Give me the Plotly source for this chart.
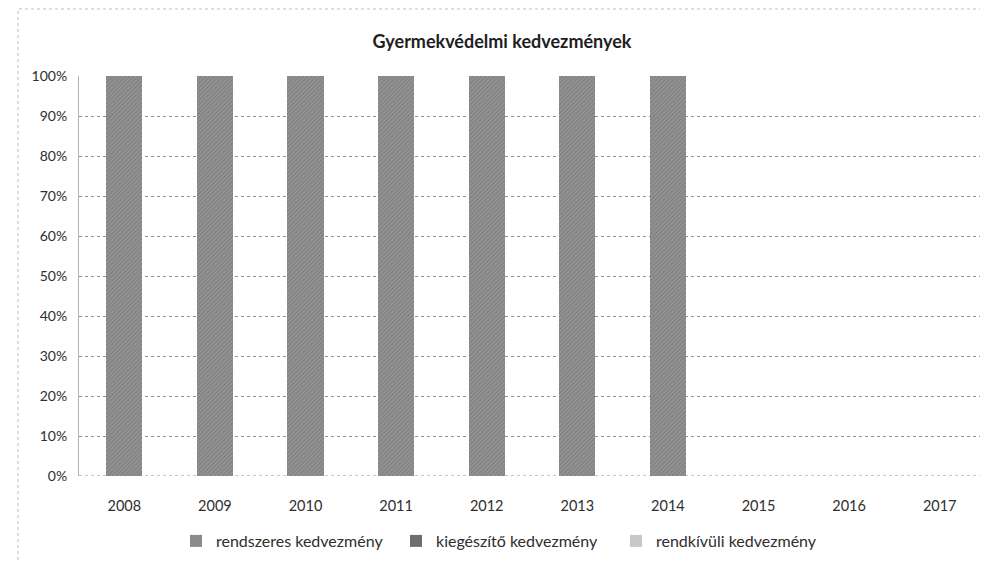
import plotly.graph_objects as go

years = ["2008", "2009", "2010", "2011", "2012", "2013", "2014", "2015", "2016", "2017"]
rendszeres = [100, 100, 100, 100, 100, 100, 100, None, None, None]
kiegeszito = [0, 0, 0, 0, 0, 0, 0, None, None, None]
rendkivuli = [0, 0, 0, 0, 0, 0, 0, None, None, None]
y_ticks = [0, 10, 20, 30, 40, 50, 60, 70, 80, 90, 100]

W, H = 988, 562
OFF = 8  # page offset of the figure inside the browser
L, R, T, B = 79 - OFF, 988 - (985 - OFF), 76 - OFF, 562 - (476 - OFF)

fig = go.Figure()
fig.add_bar(x=years, y=rendszeres, name="rendszeres kedvezmény",
            marker=dict(color="#858585", line=dict(width=0),
                        pattern=dict(shape="/", fgcolor="#656565", bgcolor="#949494", size=3, solidity=0.4)))
fig.add_bar(x=years, y=kiegeszito, name="kiegészítő kedvezmény",
            marker=dict(color="#6e6e6e", line=dict(width=0)))
fig.add_bar(x=years, y=rendkivuli, name="rendkívüli kedvezmény",
            marker=dict(color="#c8c8c8", line=dict(width=0)))

pw = W - L - R
ph = H - T - B
def px_x(x):
    return (x - OFF - L) / pw
def px_y(y):
    return 1 - (y - OFF - T) / ph

fig.add_shape(type="rect", xref="paper", yref="paper",
              x0=px_x(18), x1=px_x(985), y0=px_y(575), y1=px_y(9),
              line=dict(color="#bdbdbd", width=1, dash="dot"), layer="below")

fig.update_layout(
    width=W, height=H,
    margin=dict(l=L, r=R, t=T, b=B),
    barmode="stack", bargap=0.6,
    paper_bgcolor="white", plot_bgcolor="white",
    font=dict(family="Lato, Open Sans, sans-serif", color="#333333", size=14),
    title=dict(text="<b>Gyermekvédelmi kedvezmények</b>", x=0.5, xanchor="center",
               y=1 - (42 - OFF) / H, yanchor="middle", font=dict(size=18, color="#1e1e1e")),
    xaxis=dict(type="category", categoryorder="array", categoryarray=years,
               showgrid=False, showline=False, ticks="", ticklabelstandoff=19,
               tickfont=dict(size=14.5, color="#2e2e2e")),
    yaxis=dict(range=[0, 100], tickvals=y_ticks, ticktext=[f"{v}%" for v in y_ticks],
               showgrid=True, gridcolor="#8f8f8f", griddash="dot", gridwidth=1,
               zeroline=False, showline=True, linecolor="#b5b5b5", linewidth=1,
               ticks="", ticklabelstandoff=8,
               tickfont=dict(size=14, color="#2e2e2e")),
    legend=dict(orientation="h", x=px_x(176), xanchor="left", y=px_y(541), yanchor="middle",
                font=dict(size=16, color="#2e2e2e"), itemwidth=30, traceorder="normal",
                entrywidth=175, entrywidthmode="pixels"),
    showlegend=True,
)
fig.add_shape(type="line", xref="paper", yref="y", x0=0, x1=1, y0=0, y1=0,
              line=dict(color="#8f8f8f", width=1, dash="dot"))

fig.write_html("out.html")
